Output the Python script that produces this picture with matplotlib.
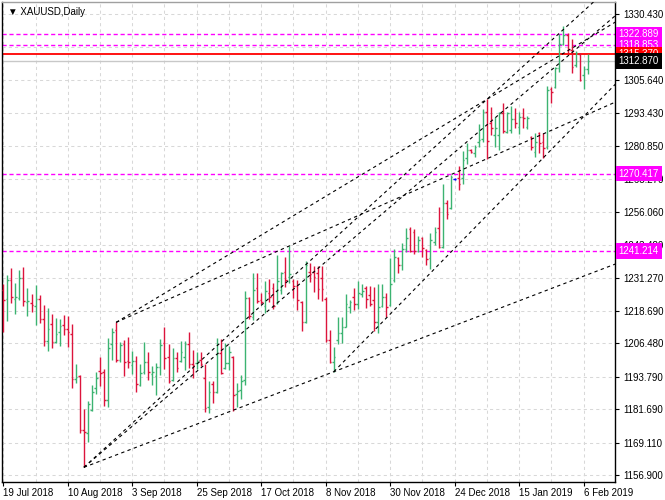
import matplotlib
matplotlib.use('Agg')
import matplotlib.pyplot as plt
import matplotlib.transforms as mtransforms

plt.rcParams['font.family'] = ['Liberation Sans', 'DejaVu Sans']

# daily XAUUSD bars (one bar per trading day)
opens = [1226.6, 1223.1, 1230.4, 1223.2, 1223.7, 1231.0, 1222.2, 1221.6, 1220.7, 1223.2,
         1215.7, 1207.4, 1213.8, 1206.9, 1210.7, 1213.4, 1211.9, 1209.9, 1193.1, 1194.3,
         1173.9, 1172.6, 1181.4, 1189.8, 1196.1, 1195.8, 1185.0, 1206.1, 1211.4, 1200.1,
         1206.1, 1199.8, 1198.3, 1199.8, 1190.8, 1195.6, 1199.4, 1195.1, 1194.3, 1197.7,
         1206.5, 1201.5, 1192.7, 1200.9, 1199.8, 1201.5, 1206.1, 1198.6, 1199.0, 1200.2,
         1193.3, 1182.6, 1191.2, 1188.1, 1202.7, 1197.1, 1199.2, 1201.5, 1187.4, 1188.9,
         1192.7, 1223.5, 1216.3, 1227.2, 1222.8, 1220.6, 1225.6, 1227.2, 1221.8, 1226.6,
         1233.5, 1231.6, 1230.1, 1228.1, 1222.2, 1214.6, 1233.5, 1233.5, 1233.0, 1231.0,
         1223.1, 1207.8, 1199.6, 1207.8, 1210.5, 1212.8, 1220.3, 1224.1, 1221.3, 1225.1,
         1227.2, 1224.7, 1222.8, 1214.6, 1220.6, 1224.1, 1220.9, 1230.4, 1238.5, 1236.0,
         1241.9, 1249.5, 1248.6, 1241.4, 1246.1, 1241.7, 1238.5, 1244.8, 1249.8, 1242.9,
         1259.2, 1257.4, 1268.4, 1268.7, 1268.7, 1276.3, 1279.3, 1278.1, 1282.5, 1283.3,
         1293.7, 1289.4, 1285.0, 1285.0, 1293.1, 1286.2, 1286.9, 1291.0, 1287.9, 1291.9,
         1288.1, 1284.3, 1278.7, 1285.6, 1282.5, 1280.3, 1302.2, 1302.9, 1310.1, 1319.2,
         1322.6, 1317.0, 1311.3, 1315.5, 1307.6, 1309.7]
highs = [1228.7, 1232.2, 1234.8, 1229.2, 1234.1, 1235.3, 1227.5, 1225.1, 1228.5, 1224.7,
         1220.9, 1219.9, 1217.4, 1216.2, 1215.7, 1217.2, 1216.8, 1213.8, 1198.6, 1194.6,
         1181.8, 1184.8, 1190.8, 1195.6, 1201.4, 1196.8, 1208.4, 1212.4, 1214.4, 1206.9,
         1207.8, 1209.0, 1203.6, 1201.8, 1198.6, 1206.9, 1203.3, 1198.1, 1199.0, 1208.1,
         1212.8, 1206.1, 1204.6, 1203.1, 1207.4, 1207.4, 1210.7, 1204.0, 1203.1, 1203.2,
         1198.6, 1192.3, 1192.4, 1208.4, 1208.0, 1206.5, 1205.5, 1201.7, 1191.5, 1194.6,
         1226.3, 1224.1, 1233.1, 1233.1, 1225.3, 1230.1, 1230.6, 1229.3, 1239.8, 1233.5,
         1239.1, 1243.2, 1230.6, 1230.4, 1222.6, 1237.6, 1236.6, 1235.6, 1235.6, 1235.6,
         1223.8, 1211.5, 1205.0, 1216.5, 1216.5, 1225.1, 1222.8, 1227.2, 1230.1, 1228.8,
         1228.1, 1228.1, 1227.8, 1228.8, 1228.8, 1225.3, 1238.5, 1241.9, 1238.9, 1244.2,
         1249.8, 1250.2, 1249.5, 1246.9, 1246.4, 1241.9, 1247.9, 1250.4, 1258.0, 1266.5,
         1260.5, 1269.9, 1268.8, 1273.3, 1279.1, 1281.8, 1279.7, 1281.2, 1289.1, 1294.6,
         1298.4, 1295.6, 1291.9, 1293.7, 1296.9, 1293.7, 1295.9, 1295.0, 1293.7, 1295.0,
         1292.1, 1284.6, 1285.6, 1286.2, 1285.6, 1303.4, 1302.9, 1310.5, 1323.0, 1326.0,
         1323.3, 1321.0, 1316.7, 1316.0, 1311.0, 1315.4]
lows = [1210.7, 1215.0, 1221.8, 1217.6, 1222.8, 1220.7, 1216.8, 1218.4, 1213.4, 1214.0,
        1205.4, 1203.7, 1204.9, 1206.5, 1205.6, 1209.6, 1205.2, 1189.8, 1191.5, 1172.6,
        1159.8, 1169.5, 1181.1, 1187.3, 1190.5, 1183.0, 1182.6, 1200.2, 1199.4, 1199.6,
        1194.3, 1197.1, 1194.8, 1188.1, 1190.5, 1194.8, 1192.7, 1190.8, 1187.0, 1194.6,
        1196.8, 1191.5, 1192.3, 1195.6, 1199.4, 1196.5, 1197.1, 1193.6, 1196.8, 1198.0,
        1180.5, 1180.2, 1184.1, 1187.9, 1195.0, 1196.7, 1196.5, 1181.1, 1182.6, 1185.4,
        1190.8, 1215.6, 1215.3, 1221.6, 1221.3, 1218.0, 1222.2, 1219.3, 1221.3, 1225.1,
        1227.6, 1229.3, 1223.5, 1219.1, 1211.3, 1214.3, 1229.7, 1225.9, 1223.1, 1222.6,
        1207.1, 1199.2, 1195.8, 1206.2, 1206.5, 1212.5, 1217.8, 1219.1, 1219.3, 1224.1,
        1219.7, 1220.6, 1211.3, 1210.5, 1220.3, 1216.3, 1220.6, 1229.7, 1232.9, 1234.1,
        1241.0, 1241.0, 1240.2, 1241.0, 1239.1, 1236.0, 1234.4, 1243.5, 1242.3, 1242.3,
        1253.2, 1257.0, 1268.0, 1264.3, 1266.5, 1274.0, 1278.2, 1276.8, 1280.3, 1282.5,
        1275.8, 1285.0, 1280.3, 1279.3, 1285.6, 1285.8, 1285.6, 1287.5, 1285.3, 1287.5,
        1287.1, 1279.3, 1276.8, 1278.1, 1276.2, 1279.6, 1296.9, 1302.6, 1308.8, 1318.9,
        1316.0, 1308.4, 1310.5, 1305.4, 1302.4, 1307.9]
closes = [1222.8, 1230.4, 1224.1, 1223.8, 1231.0, 1222.4, 1222.4, 1220.9, 1223.2, 1215.7,
          1207.4, 1211.9, 1206.9, 1210.1, 1213.1, 1211.9, 1210.7, 1193.0, 1193.7, 1173.9,
          1173.1, 1183.5, 1188.1, 1193.3, 1195.2, 1185.0, 1204.6, 1210.9, 1200.1, 1205.9,
          1199.6, 1199.6, 1199.8, 1191.3, 1195.2, 1199.6, 1195.6, 1195.6, 1197.7, 1205.9,
          1201.1, 1192.3, 1200.9, 1197.1, 1203.1, 1206.1, 1198.6, 1198.3, 1199.8, 1198.7,
          1182.3, 1188.1, 1188.1, 1202.7, 1195.4, 1199.2, 1203.3, 1187.0, 1188.7, 1192.4,
          1223.5, 1216.8, 1226.6, 1222.6, 1222.2, 1226.3, 1224.1, 1220.6, 1230.1, 1233.1,
          1230.4, 1232.6, 1228.1, 1222.8, 1214.6, 1236.0, 1232.6, 1231.4, 1226.8, 1226.8,
          1207.8, 1199.6, 1201.5, 1210.5, 1212.8, 1221.3, 1222.2, 1221.3, 1225.6, 1226.3,
          1223.1, 1221.3, 1214.6, 1220.3, 1224.1, 1220.3, 1228.8, 1239.1, 1236.0, 1241.9,
          1246.1, 1241.4, 1241.4, 1245.4, 1242.3, 1238.2, 1245.4, 1248.6, 1242.7, 1259.2,
          1255.2, 1269.0, 1268.4, 1266.5, 1275.6, 1279.3, 1278.6, 1280.3, 1283.1, 1293.7,
          1282.8, 1287.5, 1287.5, 1293.1, 1286.6, 1293.4, 1291.0, 1289.4, 1291.6, 1291.3,
          1291.3, 1280.6, 1282.5, 1282.1, 1280.0, 1301.9, 1301.3, 1310.1, 1319.2, 1322.6,
          1317.2, 1310.5, 1315.7, 1305.7, 1309.7, 1312.87]

# date labels every 16 bars
date_pos = [0, 16, 32, 48, 64, 80, 96, 112, 128, 144]
date_labels = ['19 Jul 2018', '10 Aug 2018', '3 Sep 2018', '25 Sep 2018', '17 Oct 2018',
               '8 Nov 2018', '30 Nov 2018', '24 Dec 2018', '15 Jan 2019', '6 Feb 2019']

price_ticks = [1330.430, 1318.040, 1305.640, 1293.430, 1280.850, 1268.270, 1256.060,
               1243.480, 1231.270, 1218.690, 1206.480, 1193.790, 1181.690, 1169.110, 1156.900]

# horizontal levels
magenta_levels = [1322.889, 1318.853, 1270.417, 1241.214]
red_level = 1315.370
bid = 1312.870

# trend lines: (bar1, price1, bar2, price2), drawn as rays to the right
trend_lines = [
    (20, 1159.8, 82, 1195.8),
    (20, 1159.8, 120, 1298.4),
    (20, 1159.8, 120, 1288.8),
    (28, 1214.4, 120, 1298.4),
    (28, 1214.4, 71, 1243.2),
    (82, 1195.8, 106, 1233.0),
]

green = '#3cb371'
red = '#dc143c'

fig = plt.figure(figsize=(6.65, 5.0), dpi=100)
ax = fig.add_axes([2 / 665, 18.5 / 500, 612.5 / 665, 480 / 500])
xmin, xmax = -0.32, 151.66
ax.set_xlim(xmin, xmax)
ax.set_ylim(1154.46, 1335.25)

# grid
for p in price_ticks:
    ax.axhline(p, color='#d8d8d8', lw=0.75, ls=(0, (3, 3)), zorder=0)
for b in range(0, 152, 8):
    ax.axvline(b, color='#d8d8d8', lw=0.75, ls=(0, (3, 3)), zorder=0)

# OHLC bars
n = len(opens)
for i in range(n):
    o, h, l, c = opens[i], highs[i], lows[i], closes[i]
    col = green if c > o else (red if c < o else '#0000ff')
    ax.plot([i, i], [l, h], color=col, lw=1.0, solid_capstyle='butt', zorder=3)
    ax.plot([i - 0.4, i], [o, o], color=col, lw=1.0, solid_capstyle='butt', zorder=3)
    ax.plot([i, i + 0.4], [c, c], color=col, lw=1.0, solid_capstyle='butt', zorder=3)

# levels
for lv in magenta_levels:
    ax.axhline(lv, color='#ff00ff', lw=1.0, ls=(0, (3, 2)), zorder=2)
ax.axhline(bid, color='#c8c8c8', lw=1.0, zorder=1)
ax.axhline(red_level, color='#ff0000', lw=1.3, zorder=2)

# trend lines
for b1, p1, b2, p2 in trend_lines:
    slope = (p2 - p1) / (b2 - b1)
    xe = xmax + 5
    ax.plot([b1, xe], [p1, p1 + slope * (xe - b1)], color='black', lw=0.8,
            ls=(0, (3, 3)), zorder=4)

# axes styling
for s in ax.spines.values():
    s.set_color('black')
    s.set_linewidth(1.0)
ax.spines['top'].set_color('#a0a0a0')
ax.yaxis.tick_right()
ax.set_yticks(price_ticks)
ax.set_yticklabels(['%.3f' % p if i != 1 else '' for i, p in enumerate(price_ticks)])
ax.tick_params(axis='y', direction='out', length=3, width=0.8, pad=3, labelsize=7,
               colors='black')
ax.set_xticks(date_pos)
ax.set_xticklabels(date_labels, ha='left')
ax.tick_params(axis='x', direction='out', length=3, width=0.8, pad=2, labelsize=7)

# price boxes on the right axis
trans = mtransforms.blended_transform_factory(ax.transAxes, ax.transData)
boxes = [(1322.889, '#ff00ff'), (1318.853, '#ff00ff'), (1270.417, '#ff00ff'),
         (1241.214, '#ff00ff'), (1315.370, '#ff0000'), (1312.870, '#000000')]
for val, fc in boxes:
    ax.text(1.007, val, '%.3f' % val, transform=trans, ha='left', va='center',
            fontsize=7, color='white', zorder=10, clip_on=False,
            bbox=dict(boxstyle='square,pad=0.28', fc=fc, ec='none'))

ax.text(0.01, 0.988, '\u25bc XAUUSD,Daily', transform=ax.transAxes, ha='left',
        va='top', fontsize=7)

fig.savefig('out.png', dpi=100)
